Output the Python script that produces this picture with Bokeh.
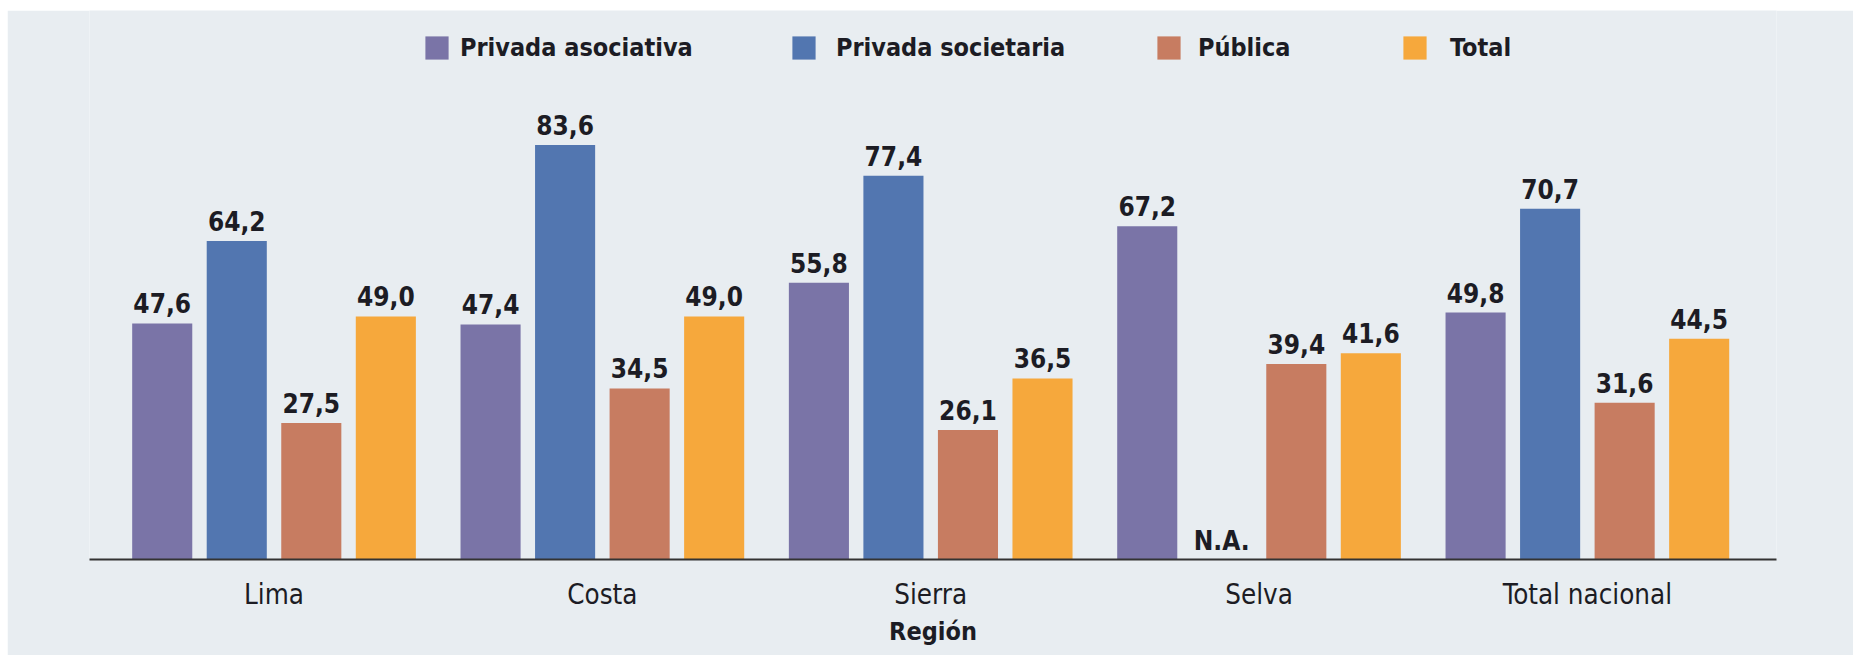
from bokeh.plotting import figure
from bokeh.models import ColumnDataSource, Range1d, FixedTicker, Legend, LegendItem, LabelSet
from bokeh.transform import dodge
from bokeh.core.properties import value
from bokeh.embed import file_html
from bokeh.resources import INLINE

# ---- data ----
regions = ["Lima", "Costa", "Sierra", "Selva", "Total nacional"]
series = ["Privada asociativa", "Privada societaria", "Pública", "Total"]
privada_asociativa = [47.6, 47.4, 55.8, 67.2, 49.8]
privada_societaria = [64.2, 83.6, 77.4, None, 70.7]
publica = [27.5, 34.5, 26.1, 39.4, 31.6]
total = [49.0, 49.0, 36.5, 41.6, 44.5]
na_text = "N.A."
axis_title = "Región"

colors = ["#7a74a7", "#5276b0", "#c77c61", "#f6a83c"]
FONT = "Liberation Sans Narrow, DejaVu Sans Condensed, Roboto"
BG = "#e8edf1"
TXT = "#1c1c24"

values_by_series = [privada_asociativa, privada_societaria, publica, total]

data = {"x": list(range(len(regions)))}
for i, vals in enumerate(values_by_series):
    data[f"v{i}"] = [float("nan") if v is None else v for v in vals]
    data[f"ly{i}"] = [0 if v is None else v for v in vals]
    data[f"lt{i}"] = [na_text if v is None else f"{v:.1f}".replace(".", ",") for v in vals]
source = ColumnDataSource(data)

p = figure(width=1846, height=645, output_backend="svg", toolbar_location=None,
           x_range=Range1d(-0.562, 4.576), y_range=Range1d(0, 110.7),
           y_axis_location=None,
           min_border_left=82, min_border_right=77, min_border_top=0, min_border_bottom=96,
           background_fill_color=BG, border_fill_color=BG, outline_line_color=None)
p.margin = (10, 0, 0, 7)
p.xgrid.visible = False
p.ygrid.visible = False

pitch = 0.227
bw = 0.183
offsets = [-1.5 * pitch, -0.5 * pitch, 0.5 * pitch, 1.5 * pitch]

renderers = []
for i in range(4):
    r = p.vbar(x=dodge("x", offsets[i], range=p.x_range), top=f"v{i}", width=bw,
               source=source, fill_color=colors[i], line_color=None)
    renderers.append(r)
    labels = LabelSet(x=dodge("x", offsets[i], range=p.x_range), y=f"ly{i}", text=f"lt{i}",
                      source=source, text_align="center", text_baseline="alphabetic",
                      y_offset=10, text_font=value(FONT), text_font_size="26px",
                      text_font_style="bold", text_color=TXT)
    p.add_layout(labels)

ax = p.xaxis[0]
ax.ticker = FixedTicker(ticks=list(range(len(regions))))
ax.major_label_overrides = {i: name for i, name in enumerate(regions)}
ax.axis_line_color = "#333333"
ax.axis_line_width = 2
ax.major_tick_line_color = None
ax.minor_tick_line_color = None
ax.major_tick_out = 0
ax.major_tick_in = 0
ax.major_label_standoff = 18
ax.major_label_text_font = FONT
ax.major_label_text_font_size = "27.5px"
ax.major_label_text_color = TXT
ax.axis_label = axis_title
ax.axis_label_standoff = 4
ax.axis_label_text_font = FONT
ax.axis_label_text_font_size = "25px"
ax.axis_label_text_font_style = "bold"
ax.axis_label_text_color = TXT

leg_x = [333, 700, 1065, 1311]
standoffs = [9, 18, 15, 21]
for i in range(4):
    leg = Legend(items=[LegendItem(label=series[i], renderers=[renderers[i]])],
                 location=(leg_x[i], 497), orientation="horizontal",
                 glyph_width=29, glyph_height=29, label_height=29,
                 label_standoff=standoffs[i], padding=0, margin=0, spacing=0,
                 border_line_color=None, background_fill_alpha=0,
                 label_text_font=FONT, label_text_font_size="25px",
                 label_text_font_style="bold", label_text_color=TXT)
    p.add_layout(leg, "center")

open("out.html", "w").write(file_html(p, INLINE))
